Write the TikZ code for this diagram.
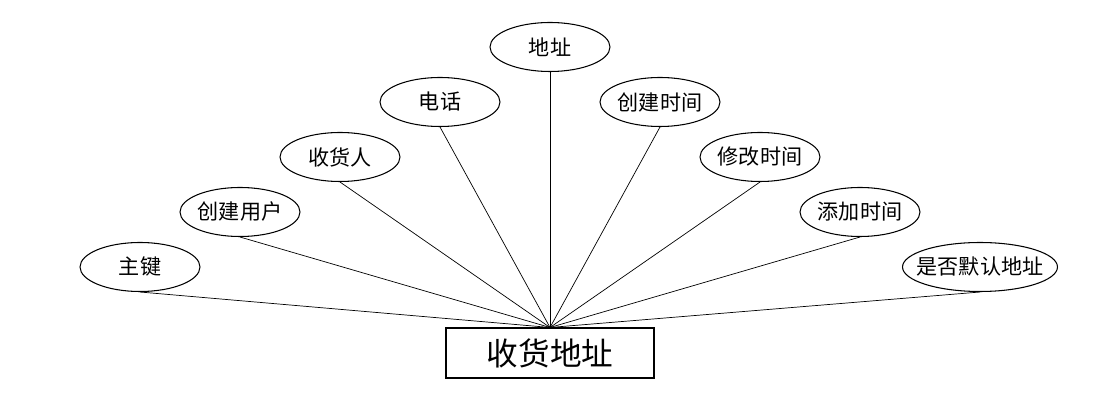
\documentclass[tikz,border=0pt]{standalone}
\usepackage{fontspec}
\setmainfont{Noto Sans CJK SC}
\usetikzlibrary{shapes.geometric}

\begin{document}
\begin{tikzpicture}[x=0.02cm,y=-0.02cm,semithick]

  \tikzstyle{attr}=[ellipse,draw,minimum width=2.4cm,minimum height=0.98cm,inner sep=0pt,font=\fontsize{12pt}{14pt}\selectfont]
  \tikzstyle{entity}=[rectangle,draw,minimum width=4.16cm,minimum height=1cm,font=\fontsize{18pt}{21pt}\selectfont]

  \useasboundingbox (0,0) rectangle (1100,408);

  \node[entity] (ADDR) at (550,353) {收货地址};

  \node[attr] (PK)  at (140,267) {主键};
  \node[attr] (CU)  at (240,212) {创建用户};
  \node[attr] (RCV) at (340,157) {收货人};
  \node[attr] (TEL) at (440,102) {电话};
  \node[attr] (LOC) at (550,47)  {地址};
  \node[attr] (CT)  at (660,102) {创建时间};
  \node[attr] (MT)  at (760,157) {修改时间};
  \node[attr] (AT)  at (860,212) {添加时间};
  \node[attr,minimum width=3.1cm,inner xsep=-0.55cm] (DEF) at (980,267) {是否默认地址};

  \foreach \a in {PK,CU,RCV,TEL,LOC,CT,MT,AT,DEF}
    \draw[thin] (\a.south) -- (ADDR.north);
\end{tikzpicture}
\end{document}
